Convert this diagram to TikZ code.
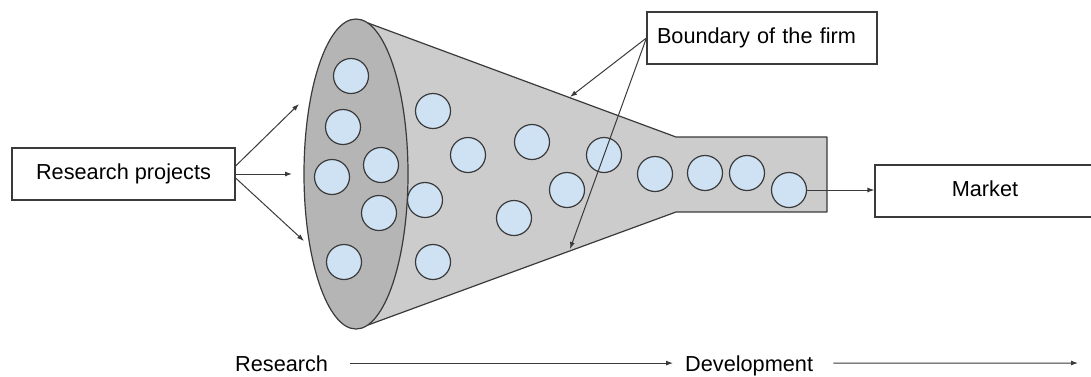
\documentclass[tikz,border=0pt]{standalone}
\usepackage{fontspec}
\setmainfont{Liberation Sans}
\usetikzlibrary{arrows.meta}
\definecolor{lineC}{HTML}{3A3A3A}
\definecolor{coneC}{HTML}{CCCCCC}
\definecolor{mouthC}{HTML}{B5B5B5}
\definecolor{dotC}{HTML}{CFE2F3}
\begin{document}
\begin{tikzpicture}[x=1pt,y=-1pt,font=\fontsize{21.7}{26}\selectfont,
  lbl/.style={draw=lineC,line width=1.2pt,fill=white,text height=15.8pt,text depth=4.6pt,inner sep=0pt},
  dot/.style={circle,draw=lineC,line width=1.2pt,fill=dotC,minimum size=35pt,inner sep=0pt},
  arr/.style={draw=lineC,line width=1pt,-{Latex[length=7pt,width=5pt]}},
  plain/.style={inner sep=0pt,text height=15.8pt,text depth=0pt}]
\useasboundingbox (0,0) rectangle (1091,376);
\clip (0,0) rectangle (1091,376);
% funnel
\filldraw[fill=coneC,draw=lineC,line width=1.2pt,line join=round]
  (368,23) -- (676,137) -- (827,137) -- (827,212) -- (676,212) -- (368,325) -- cycle;
\filldraw[fill=mouthC,draw=lineC,line width=1.2pt]
  (356,174) ellipse [x radius=52pt,y radius=155pt];
% projects
\node[dot] (c1) at (351,76) {};
\node[dot] (c2) at (343,127) {};
\node[dot] (c3) at (381,165) {};
\node[dot] (c4) at (332,177) {};
\node[dot] (c5) at (379,213) {};
\node[dot] (c6) at (344,262) {};
\node[dot] (c7) at (433,111) {};
\node[dot] (c8) at (468,155) {};
\node[dot] (c9) at (532,142) {};
\node[dot] (c10) at (425,200) {};
\node[dot] (c11) at (567,190) {};
\node[dot] (c12) at (514,218) {};
\node[dot] (c13) at (433,262) {};
\node[dot] (c14) at (604,155) {};
\node[dot] (c15) at (655,174) {};
\node[dot] (c16) at (705,173) {};
\node[dot] (c17) at (747,173) {};
\node[dot] (c18) at (789,190) {};
% boxes
\node[lbl,minimum width=223pt,minimum height=52pt] (rp) at (123.5,174) {Research projects};
\node[lbl,text width=210pt,inner xsep=10pt,minimum height=52pt,align=left] (bf) at (762,38) {Boundary of the firm};
\node[lbl,minimum width=220pt,minimum height=52pt] (mk) at (985,191) {Market};
% arrows from research projects
\coordinate (t1) at (299,104);
\coordinate (t2) at (292,174);
\coordinate (t3) at (304,241);
\draw[arr] ([yshift=8pt]rp.east) -- (t1);
\draw[arr] (rp.east) -- (t2);
\draw[arr] ([yshift=-4pt]rp.east) -- (t3);
% boundary arrows
\coordinate (b1) at (570,97);
\coordinate (b2) at (570,249);
\draw[arr] (bf.west) -- (b1);
\draw[arr] (bf.west) -- (b2);
% to market
\draw[arr] (c18.east) -- (c18.east -| mk.west);
% bottom axis
\node[plain,anchor=base west] (res) at (235,371) {Research};
\node[plain,anchor=base west] (dev) at (685,371) {Development};
\coordinate (endR) at (1078,363);
\draw[arr] ([xshift=22pt]res.east) -- ([xshift=-12pt]dev.west);
\draw[arr] ([xshift=20pt]dev.east) -- (endR);
\end{tikzpicture}
\end{document}
